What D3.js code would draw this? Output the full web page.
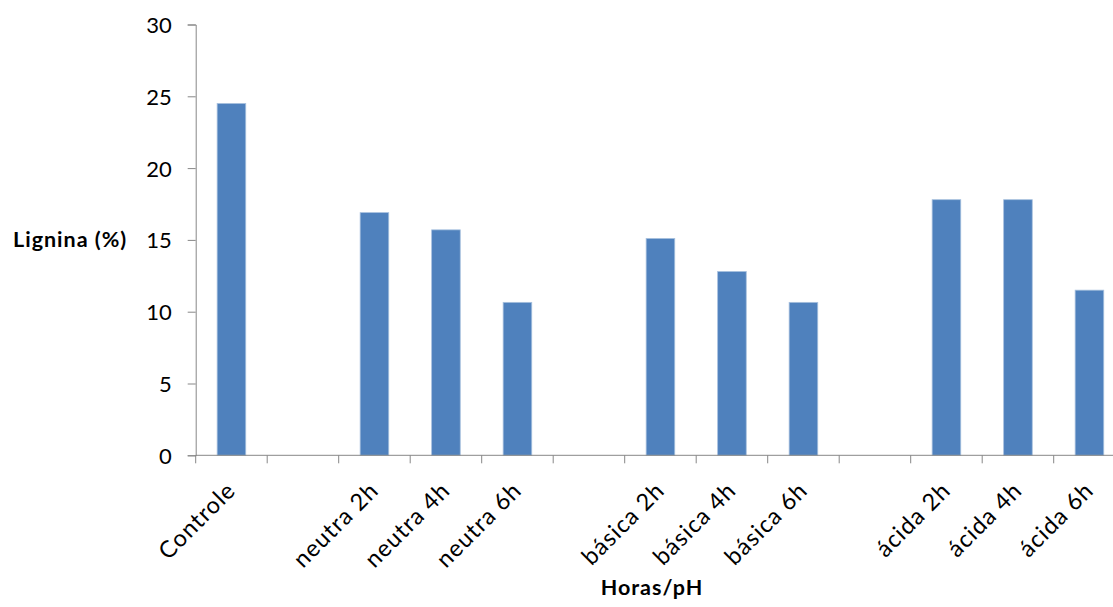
<!DOCTYPE html>
<html><head><meta charset="utf-8">
<script src="https://cdn.jsdelivr.net/npm/d3@7"></script>
<style>
body{margin:0;background:#fff;}
svg{display:block;}
text{font-family:Lato,"Open Sans",sans-serif;fill:#000;}
</style></head>
<body><svg id="c" width="1113" height="607"></svg>
<script>
const categories = ["Controle","", "neutra 2h","neutra 4h","neutra 6h","", "básica 2h","básica 4h","básica 6h","", "ácida 2h","ácida 4h","ácida 6h"];
const values = [24.5, null, 16.9, 15.7, 10.65, null, 15.1, 12.8, 10.65, null, 17.8, 17.8, 11.5];
const yTicks = [0,5,10,15,20,25,30];
const yTitle = "Lignina (%)";
const xTitle = "Horas/pH";

const svg = d3.select("#c");
const keys = categories.map((c,i)=>i);
const x0 = 195.7, step = 71.5;
const x = d3.scaleBand().domain(keys).range([x0, x0 + step*categories.length]).paddingInner(0.6).paddingOuter(0.3);
const y = d3.scaleLinear().domain([0,30]).range([455.3, 24.5]);
const axisColor = "#878787";

// bars
svg.append("g").selectAll("rect").data(keys.filter(k=>values[k]!=null)).join("rect")
  .attr("x", k=>x(k)).attr("width", x.bandwidth())
  .attr("y", k=>y(values[k])).attr("height", k=>y(0)-y(values[k]))
  .attr("fill","#4F81BD").attr("stroke","#A7C0DE").attr("stroke-width",0.8);

// y axis
const yAxis = svg.append("g").attr("transform",`translate(${x0},0)`)
  .call(d3.axisLeft(y).tickValues(yTicks).tickSize(8).tickPadding(16).tickFormat(d3.format("d")));
yAxis.selectAll("path,line").attr("stroke",axisColor);
yAxis.selectAll("text").style("font-size","22px").attr("dy","0.36em").attr("fill","#222");

// x axis: ticks at band boundaries
const bounds = d3.range(categories.length+1).map(i=>x0 + i*step);
const xg = svg.append("g");
xg.append("line").attr("x1",x0).attr("x2",x0+step*categories.length).attr("y1",y(0)).attr("y2",y(0)).attr("stroke",axisColor);
xg.selectAll("line.t").data(bounds).join("line").attr("class","t")
  .attr("x1",d=>d).attr("x2",d=>d).attr("y1",y(0)).attr("y2",y(0)+8).attr("stroke",axisColor);
xg.selectAll("text").data(keys.filter(k=>categories[k]!=="")).join("text")
  .attr("transform", k=>`translate(${x(k)+x.bandwidth()/2-6},${y(0)+25}) rotate(-45)`)
  .attr("text-anchor","end").attr("dy","0.7em")
  .style("font-size","23.5px").style("letter-spacing","1px").attr("fill","#222")
  .text(k=>categories[k]);

// titles
svg.append("text").attr("x",13).attr("y",247).style("font-size","21.5px").style("letter-spacing","1px").style("font-weight","bold").text(yTitle);
svg.append("text").attr("x",652).attr("y",595).attr("text-anchor","middle").style("font-size","21.5px").style("letter-spacing","1px").style("font-weight","bold").text(xTitle);
</script></body></html>
